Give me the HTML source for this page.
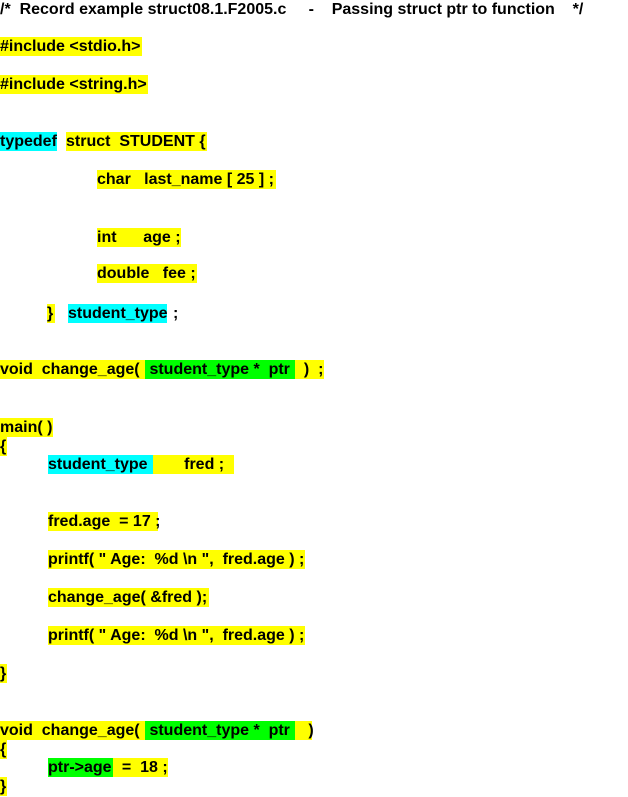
<!DOCTYPE html>
<html><head><meta charset="utf-8"><style>
body{margin:0;width:628px;height:797px;background:#fff;position:relative;overflow:hidden;font-family:"Liberation Sans",Arial,sans-serif;font-weight:bold;font-size:16px;color:#000}
.b{position:absolute;height:19px;line-height:20px;white-space:pre;overflow:visible}
.y{background:#ffff00}.c{background:#00ffff}.g{background:#00ff00}
</style></head><body>
<div class="b" style="left:0;top:0;">/*  Record example struct08.1.F2005.c     -    Passing struct ptr to function    */</div>
<div class="b y" style="left:0;top:37px;width:142px">#include &lt;stdio.h&gt;</div>
<div class="b y" style="left:0;top:75px;width:148px">#include &lt;string.h&gt;</div>
<div class="b c" style="left:0;top:132px;width:57px">typedef</div>
<div class="b y" style="left:66px;top:132px;width:141px">struct  STUDENT {</div>
<div class="b y" style="left:97px;top:170px;width:179px">char   last_name [ 25 ] ;</div>
<div class="b y" style="left:97px;top:228px;width:84px">int      age ;</div>
<div class="b y" style="left:97px;top:264px;width:100px">double   fee ;</div>
<div class="b y" style="left:47px;top:304px;width:8px">}</div>
<div class="b c" style="left:68px;top:304px;width:99px">student_type</div>
<div class="b" style="left:173px;top:304px;">;</div>
<div class="b y" style="left:0;top:360px;width:145px">void  change_age( </div>
<div class="b g" style="left:145px;top:360px;width:150px"> student_type *  ptr</div>
<div class="b y" style="left:295px;top:360px;width:29px">  )  ;</div>
<div class="b y" style="left:0;top:418px;width:53px">main( )</div>
<div class="b y" style="left:0;top:437px;width:7px">{</div>
<div class="b c" style="left:48px;top:455px;width:105px">student_type</div>
<div class="b y" style="left:153px;top:455px;width:81px">       fred ;</div>
<div class="b y" style="left:48px;top:512px;width:110px">fred.age  = 17 ;</div>
<div class="b y" style="left:48px;top:550px;width:257px">printf( " Age:  %d \n ",  fred.age ) ;</div>
<div class="b y" style="left:48px;top:588px;width:161px">change_age( &amp;fred );</div>
<div class="b y" style="left:48px;top:626px;width:257px">printf( " Age:  %d \n ",  fred.age ) ;</div>
<div class="b y" style="left:0;top:664px;width:7px">}</div>
<div class="b y" style="left:0;top:721px;width:145px">void  change_age( </div>
<div class="b g" style="left:145px;top:721px;width:150px"> student_type *  ptr</div>
<div class="b y" style="left:295px;top:721px;width:17px">   )</div>
<div class="b y" style="left:0;top:740px;width:7px">{</div>
<div class="b g" style="left:48px;top:758px;width:65px">ptr-&gt;age</div>
<div class="b y" style="left:113px;top:758px;width:55px">  =  18 ;</div>
<div class="b y" style="left:0;top:777px;width:7px">}</div>
</body></html>
